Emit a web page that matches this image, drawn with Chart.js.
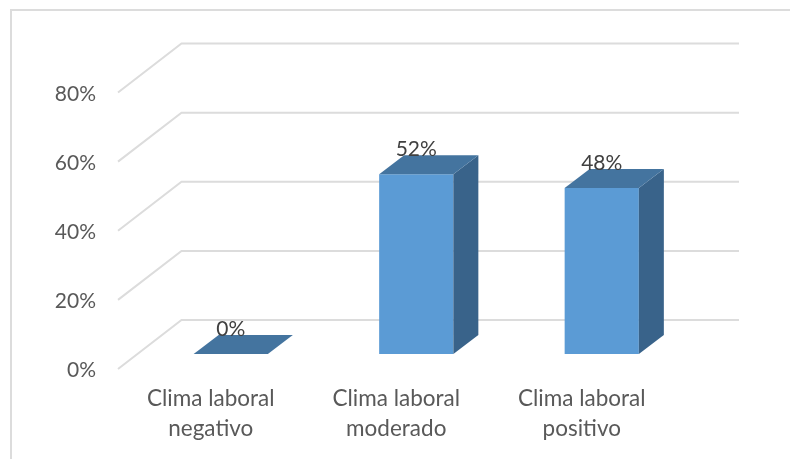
<!DOCTYPE html>
<html>
<head>
<meta charset="utf-8">
<script src="https://cdn.jsdelivr.net/npm/chart.js@4"></script>
<style>
html,body{margin:0;padding:0;background:#fff;overflow:hidden}
#frame{position:absolute;left:10px;top:9px;width:780px;height:450px;border-top:2px solid #dcdcdc;border-left:2px solid #dcdcdc;box-sizing:border-box}
canvas{position:absolute;left:0;top:0}
</style>
</head>
<body>
<div id="frame"></div>
<canvas id="c" width="790" height="459"></canvas>
<script>
const categories = [["Clima laboral","negativo"],["Clima laboral","moderado"],["Clima laboral","positivo"]];
const values = [0, 52, 48];
const yMax = 80;
const yStep = 20;

const FONT = "Lato";
const WALL = {dx: 63.5, dy: 49, right: 739};
const BAR_SHIFT = {dx: 20, dy: 15};
const BAR_DEPTH = {dx: 25, dy: 19};

const perspective = {
  id: "perspective",
  beforeDraw(chart) {
    chart.scales.y.getLabelItems().forEach(it => { it.options.translation[1] += 1.5; });
  },
  beforeDatasetsDraw(chart) {
    const {ctx, scales: {y}, chartArea} = chart;
    ctx.save();
    ctx.strokeStyle = "#dcdcdc";
    ctx.lineWidth = 2;
    y.ticks.forEach(t => {
      const py = y.getPixelForValue(t.value);
      ctx.beginPath();
      ctx.moveTo(chartArea.left, py);
      ctx.lineTo(chartArea.left + WALL.dx, py - WALL.dy);
      ctx.lineTo(WALL.right, py - WALL.dy);
      ctx.stroke();
    });
    ctx.restore();
    ctx.save();
    ctx.translate(BAR_SHIFT.dx, -BAR_SHIFT.dy);
  },
  afterDatasetsDraw(chart) {
    const {ctx} = chart;
    ctx.restore();
    const bars = chart.getDatasetMeta(0).data;
    const poly = (pts, fill) => {
      ctx.beginPath();
      pts.forEach((p, i) => i ? ctx.lineTo(p[0], p[1]) : ctx.moveTo(p[0], p[1]));
      ctx.closePath();
      ctx.fillStyle = fill;
      ctx.fill();
    };
    bars.forEach((b, i) => {
      const l = b.x - b.width / 2 + BAR_SHIFT.dx, r = b.x + b.width / 2 + BAR_SHIFT.dx;
      const t = b.y - BAR_SHIFT.dy, bt = b.base - BAR_SHIFT.dy;
      const dx = BAR_DEPTH.dx, dy = BAR_DEPTH.dy;
      poly([[r, t], [r + dx, t - dy], [r + dx, bt - dy], [r, bt]], "#39638a");
      poly([[l, t], [l + dx, t - dy], [r + dx, t - dy], [r, t]], "#44749f");
      ctx.fillStyle = "#404040";
      ctx.font = "21px " + FONT;
      ctx.textAlign = "center";
      ctx.textBaseline = "middle";
      ctx.fillText(values[i] + "%", b.x + BAR_SHIFT.dx, t - 25);
    });
  }
};

new Chart(document.getElementById("c"), {
  type: "bar",
  data: {
    labels: categories,
    datasets: [{data: values, backgroundColor: "#5b9bd5", barPercentage: 0.4, categoryPercentage: 1}]
  },
  options: {
    responsive: false,
    animation: false,
    layout: {padding: {left: 0, top: 92.5, right: 115.5, bottom: 0}},
    plugins: {legend: {display: false}, tooltip: {enabled: false}},
    scales: {
      x: {
        grid: {display: false}, border: {display: false},
        afterFit(s) { s.height = 90; },
        ticks: {color: "#595959", font: {family: FONT, size: 22.5, lineHeight: 1.33}, padding: 7, maxRotation: 0, autoSkip: false}
      },
      y: {
        min: 0, max: yMax,
        grid: {display: false}, border: {display: false},
        afterFit(s) { s.width = 118; },
        ticks: {stepSize: yStep, color: "#595959", font: {family: FONT, size: 21}, padding: 14, callback: v => v + "%"}
      }
    }
  },
  plugins: [perspective]
});
</script>
</body>
</html>
